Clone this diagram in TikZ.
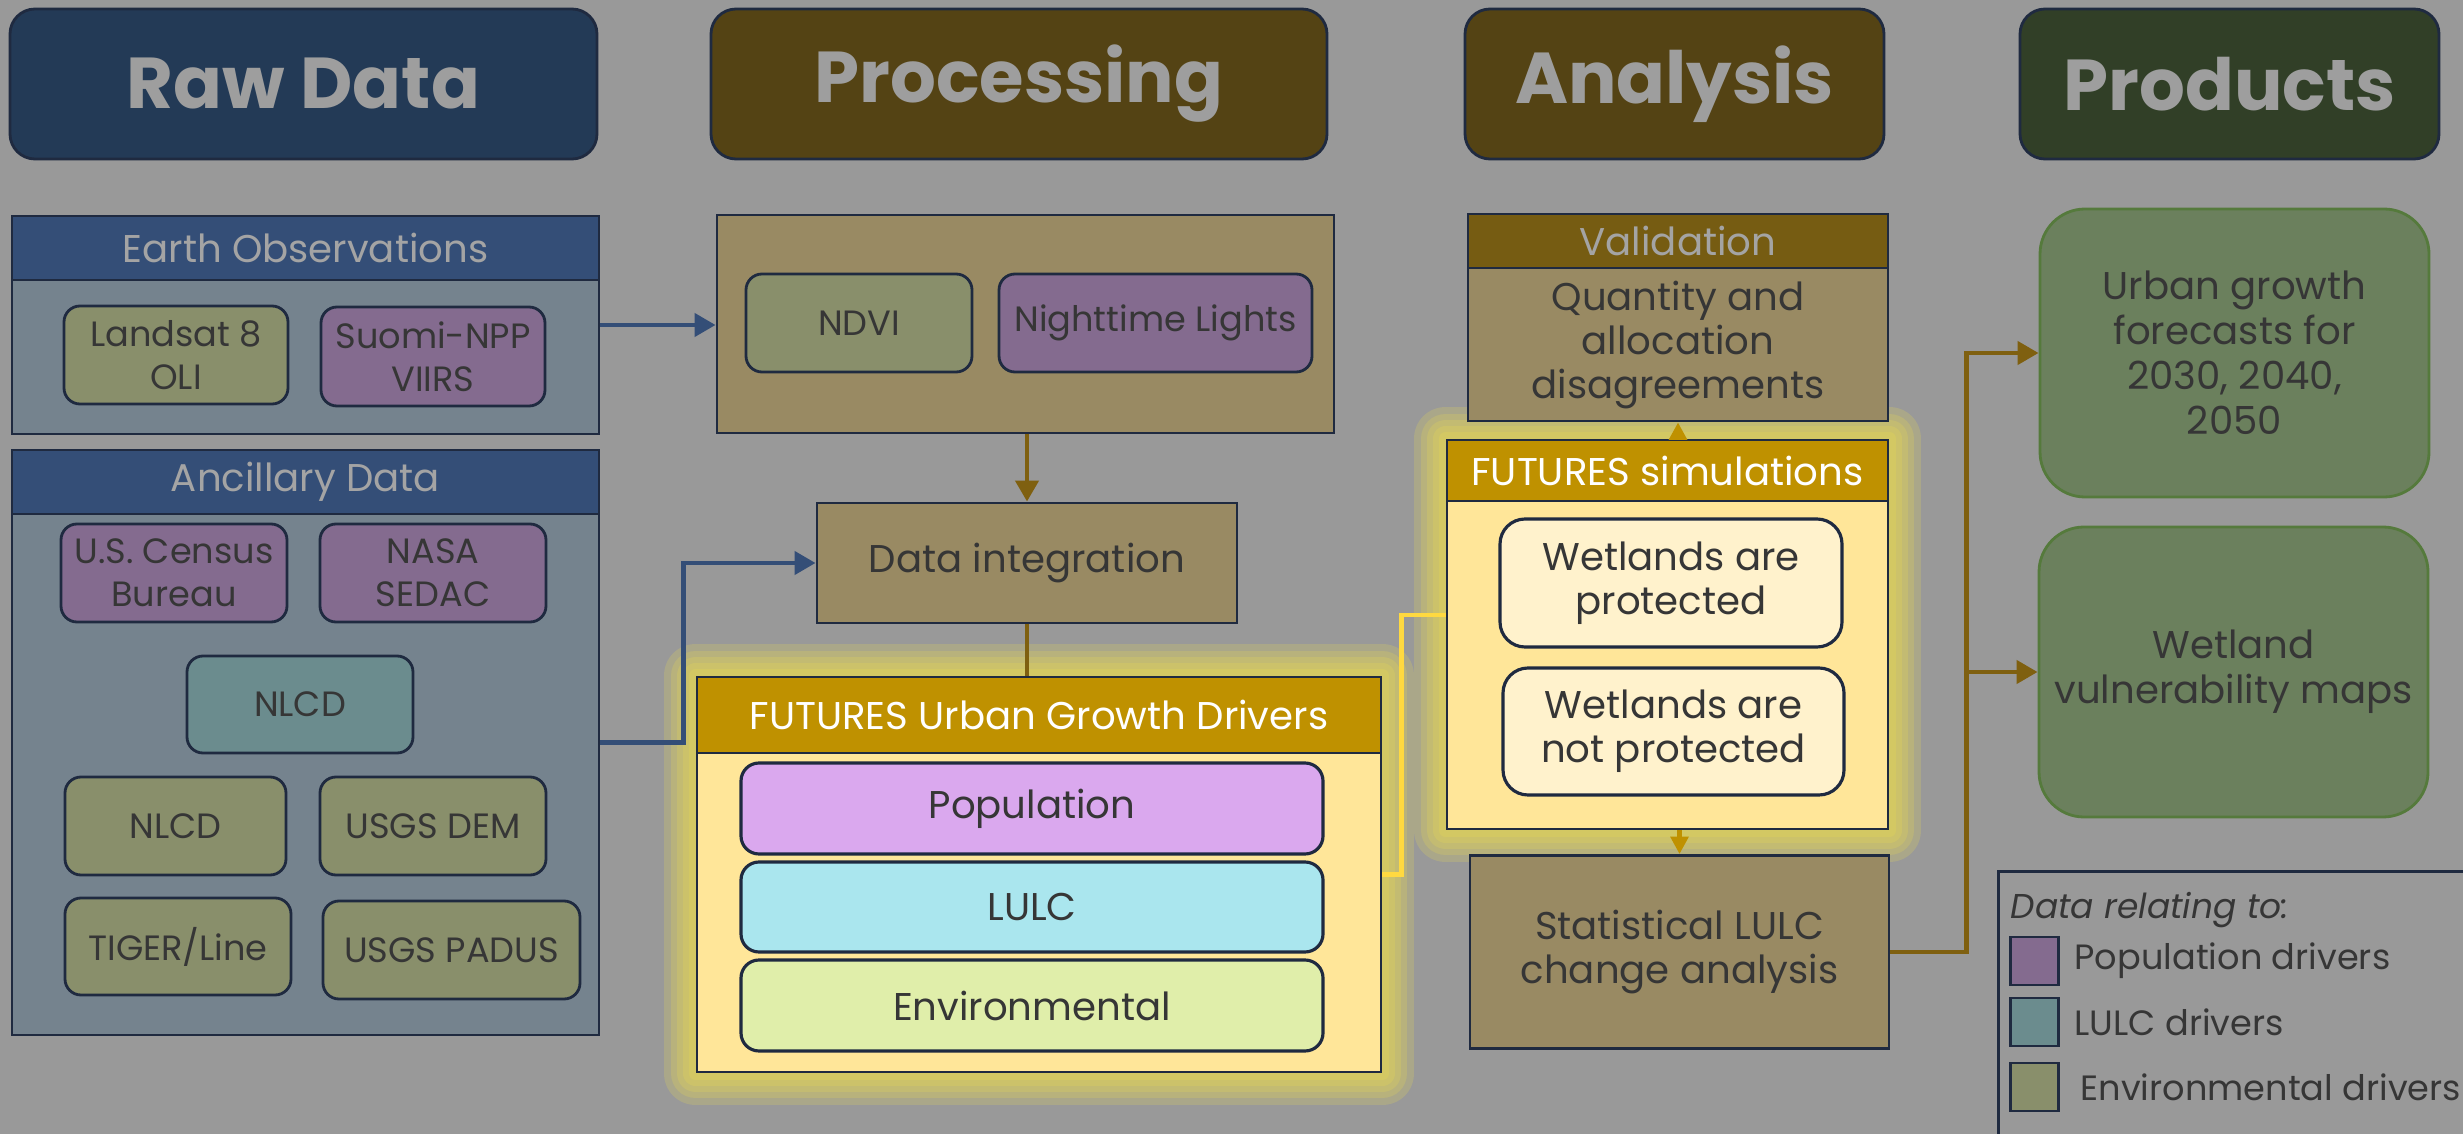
\documentclass[tikz,border=0pt]{standalone}
\usepackage{fontspec}
\setmainfont{Poppins}
\usetikzlibrary{arrows.meta,positioning,calc,backgrounds}

\definecolor{bgGray}{HTML}{999999}
\definecolor{navy}{HTML}{1F2A40}
\definecolor{txtDark}{HTML}{363636}
\definecolor{txtHead}{HTML}{9E9E9E}
\definecolor{txtLight}{HTML}{A4A4A4}
\definecolor{rawHead}{HTML}{233A56}
\definecolor{procHead}{HTML}{544314}
\definecolor{prodHead}{HTML}{313F27}
\definecolor{eoHead}{HTML}{344E77}
\definecolor{eoBody}{HTML}{75838E}
\definecolor{envFill}{HTML}{898F6B}
\definecolor{popFill}{HTML}{846B8F}
\definecolor{lulcFill}{HTML}{6B8C8E}
\definecolor{procFill}{HTML}{998A63}
\definecolor{valHead}{HTML}{765C12}
\definecolor{drvHead}{HTML}{BF9100}
\definecolor{drvBody}{HTML}{FFE699}
\definecolor{popLite}{HTML}{DAA8EE}
\definecolor{lulcLite}{HTML}{AAE6EE}
\definecolor{envLite}{HTML}{E0EEAA}
\definecolor{wetFill}{HTML}{FFF2CC}
\definecolor{prodFill}{HTML}{6B805D}
\definecolor{prodLine}{HTML}{557A3C}
\definecolor{arrowBrown}{HTML}{7F6010}
\definecolor{arrowBlue}{HTML}{344E77}
\definecolor{linkYellow}{HTML}{FFD940}
\definecolor{glowc}{HTML}{F2E24A}

\begin{document}
\begin{tikzpicture}[
    x=0.1mm, y=-0.1mm,
    every node/.style={font=\fontsize{10}{12.2}\selectfont, text=txtDark, align=center},
    wh/.style 2 args={minimum width=#1*0.1mm, minimum height=#2*0.1mm, inner sep=0pt},
    head/.style={rectangle, draw=navy, line width=0.8pt, rounded corners=2.5mm, text=txtHead, font=\fontsize{20.5}{23}\selectfont\bfseries},
    grp/.style={rectangle, draw=navy, line width=0.8pt},
    band/.style={rectangle, draw=navy, line width=0.8pt, text=txtLight, font=\fontsize{11}{13}\selectfont},
    src/.style={rectangle, draw=navy, line width=0.8pt, rounded corners=1.6mm},
    drv/.style={rectangle, draw=navy, line width=0.9pt, rounded corners=1.8mm, font=\fontsize{11}{12.6}\selectfont},
    prod/.style={rectangle, draw=prodLine, line width=0.8pt, rounded corners=4.5mm, font=\fontsize{11}{12.8}\selectfont},
    swatch/.style={rectangle, draw=navy, line width=0.8pt, minimum size=4.8mm, inner sep=0pt},
    legtext/.style={inner sep=0pt, font=\fontsize{10}{12}\selectfont},
    flow/.style={line width=1.4pt, -{Triangle[length=6pt,width=6.5pt]}},
    glow/.style={draw=glowc, opacity=0.2, line join=round},
]
    \useasboundingbox (0,0) rectangle (2463,1134);

    % Column headers
    \node[head, fill=rawHead, wh={587}{150}] (raw) at (303.5,84) {Raw Data};
    \node[head, fill=procHead, wh={616}{150}] (proc) at (1019,84) {Processing};
    \node[head, fill=procHead, wh={419}{150}] (ana) at (1674.5,84) {Analysis};
    \node[head, fill=prodHead, wh={419}{150}] (prd) at (2229.5,84) {Products};

    % Raw data: Earth observations
    \node[grp, fill=eoBody, wh={587}{218}] (eo) at (305.5,325) {};
    \node[band, fill=eoHead, wh={587}{64}, anchor=north] (eoTitle) at (eo.north) {Earth Observations};
    \node[src, fill=envFill, wh={224}{98}] (landsat) at (176,355) {Landsat 8\\OLI};
    \node[src, fill=popFill, wh={224}{99}] (suomi) at (433,356.5) {Suomi-NPP\\VIIRS};

    % Raw data: ancillary
    \node[grp, fill=eoBody, wh={587}{585}] (anc) at (305.5,742.5) {};
    \node[band, fill=eoHead, wh={587}{64}, anchor=north] (ancTitle) at (anc.north) {Ancillary Data};
    \node[src, fill=popFill, wh={226}{98}] (census) at (174,573) {U.S. Census\\Bureau};
    \node[src, fill=popFill, wh={226}{98}] (sedac) at (433,573) {NASA\\SEDAC};
    \node[src, fill=lulcFill, wh={226}{97}] (nlcdA) at (300,704.5) {NLCD};
    \node[src, fill=envFill, wh={221}{98}] (nlcdB) at (175.5,826) {NLCD};
    \node[src, fill=envFill, wh={226}{98}] (dem) at (433,826) {USGS DEM};
    \node[src, fill=envFill, wh={226}{97}] (tiger) at (178,946.5) {TIGER/Line};
    \node[src, fill=envFill, wh={257}{98}] (padus) at (451.5,950) {USGS PADUS};

    % Processing
    \node[grp, fill=procFill, wh={617}{218}] (prep) at (1025.5,324) {};
    \node[src, fill=envFill, wh={226}{98}] (ndvi) at (859,323) {NDVI};
    \node[src, fill=popFill, wh={313}{98}] (lights) at (1155.5,323) {Nighttime Lights};
    \node[grp, fill=procFill, wh={420}{120}, font=\fontsize{11}{13}\selectfont] (integ) at (1027,563) {Data integration};

    % Growth drivers
    \node[grp, fill=drvBody, wh={684}{395}] (drivers) at (1039,874.5) {};
    \node[band, fill=drvHead, text=white, wh={684}{76}, anchor=north] (drvTitle) at (drivers.north) {FUTURES Urban Growth Drivers};
    \node[drv, fill=popLite, wh={582}{91}] (pop) at (1032,808.5) {Population};
    \node[drv, fill=lulcLite, wh={582}{90}] (lulc) at (1032,907) {LULC};
    \node[drv, fill=envLite, wh={582}{91}] (env) at (1032,1005.5) {Environmental};

    % Analysis
    \node[grp, fill=procFill, wh={420}{207}] (valid) at (1678,317.5) {};
    \node[band, fill=valHead, wh={420}{54}, anchor=north] (validTitle) at (valid.north) {Validation};
    \node[font=\fontsize{11}{12.5}\selectfont] (qad) at (1678,345) {Quantity and\\allocation\\disagreements};
    \node[grp, fill=drvBody, wh={441}{389}] (sims) at (1667.5,634.5) {};
    \node[band, fill=drvHead, text=white, wh={441}{61}, anchor=north] (simsTitle) at (sims.north) {FUTURES simulations};
    \node[drv, fill=wetFill, wh={342}{128}, rounded corners=2.5mm] (wetP) at (1671,583) {Wetlands are\\protected};
    \node[drv, fill=wetFill, wh={341}{127}, rounded corners=2.5mm] (wetNP) at (1673.5,731.5) {Wetlands are\\not protected};
    \node[grp, fill=procFill, wh={419}{193}, font=\fontsize{11}{12.8}\selectfont] (stats) at (1679.5,952) {Statistical LULC\\change analysis};

    % Products
    \node[prod, fill=prodFill, wh={389}{288}] (urban) at (2234.5,353) {Urban growth\\forecasts for\\2030, 2040,\\2050};
    \node[prod, fill=prodFill, wh={389}{290}] (wvm) at (2233.5,672) {Wetland\\vulnerability maps};

    % Legend
    \node[grp, wh={520}{320}, anchor=north west] (legend) at (1997,870) {};
    \node[legtext, anchor=west, font=\fontsize{9.8}{12}\selectfont\itshape] (legTitle) at (2010,910) {Data relating to:};
    \node[swatch, fill=popFill] (swPop) at (2034.5,961) {};
    \node[legtext, right=1.4mm of swPop] (lgPop) {Population drivers};
    \node[swatch, fill=lulcFill] (swLulc) at (2034.5,1022) {};
    \node[legtext, right=1.4mm of swLulc] (lgLulc) {LULC drivers};
    \node[swatch, fill=envFill] (swEnv) at (2034.5,1087) {};
    \node[legtext, right=2.0mm of swEnv] (lgEnv) {Environmental drivers};

    % Connectors
    \draw[flow, arrowBlue] (eo.east) -- (eo.east -| prep.west);
    \draw[flow, arrowBlue] (anc.east) -- ++(83,0) |- (integ.west);
    \draw[flow, arrowBrown] (prep.south -| integ.north) -- (integ.north);
    \draw[arrowBrown, line width=1.4pt] (integ.south) -- (integ.south |- drivers.north);
    \draw[linkYellow, line width=1.4pt] (drivers.east) -- ++(19,0) |- ($(sims.west)+(0,-19.5)$);
    \draw[drvHead, line width=1.4pt, -{Triangle[length=5pt,width=5pt]}] (valid.south |- sims.north) -- (valid.south);
    \draw[drvHead, line width=1.4pt, -{Triangle[length=5pt,width=5pt]}] (stats.north |- sims.south) -- (stats.north);
    \coordinate (split) at ($(stats.east)+(76,0)$);
    \draw[flow, arrowBrown] (stats.east) -- (split) |- (urban.west);
    \draw[flow, arrowBrown] (split |- wvm.west) -- (wvm.west);

    % Background and glow
    \begin{scope}[on background layer]
        \fill[bgGray] (0,0) rectangle (2463,1134);
        \foreach \g in {64,50,38,26,14} {
            \draw[glow, line width=\g*0.1mm] (drivers.south west) rectangle (drivers.north east);
            \draw[glow, line width=\g*0.1mm] (sims.south west) rectangle (sims.north east);
        }
    \end{scope}
\end{tikzpicture}
\end{document}
